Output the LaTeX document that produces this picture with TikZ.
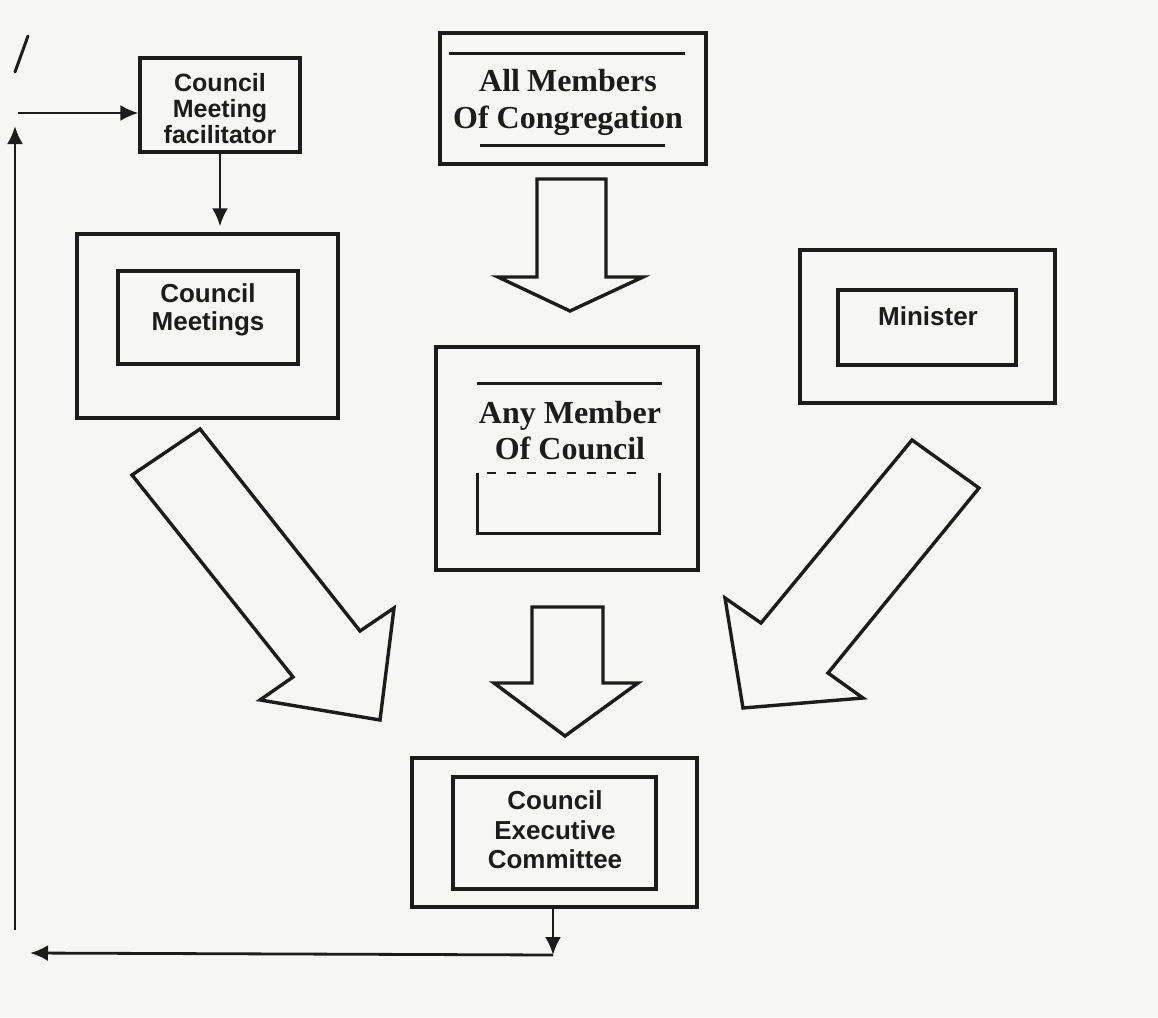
\documentclass[tikz,border=0pt]{standalone}
\usepackage{fontspec}
\setmainfont{Liberation Serif}
\setsansfont{Liberation Sans}
\usetikzlibrary{arrows.meta}
\definecolor{paper}{RGB}{246,246,244}
\definecolor{ink}{RGB}{28,28,28}
\begin{document}
\begin{tikzpicture}[x=1pt,y=-1pt,
  box/.style={draw=ink, line width=3.2pt, inner sep=0pt},
  sanstext/.style={font=\sffamily\bfseries\fontsize{26}{28}\selectfont, text=ink, align=center, inner sep=0pt},
  seriftext/.style={font=\rmfamily\bfseries\fontsize{32}{36}\selectfont, text=ink, align=center, inner sep=0pt},
  conn/.style={draw=ink, line width=2.8pt, -{Latex[length=18pt,width=16pt]}},
  rule/.style={draw=ink, line width=3pt},
  blockarrow/.style={draw=ink, line width=3.4pt, line join=miter, fill=paper}]
\fill[paper] (0,0) rectangle (1158,1017);
\useasboundingbox (0,0) rectangle (1158,1017);

% boxes
\node[box, minimum width=160pt, minimum height=94pt] (fac) at (220,105) {};
\node[box, minimum width=261pt, minimum height=184pt] (cmo) at (207.5,326) {};
\node[box, minimum width=180pt, minimum height=93pt] (cmi) at (208,317.5) {};
\node[box, minimum width=266pt, minimum height=131pt] (all) at (573,98.5) {};
\node[box, minimum width=262pt, minimum height=223pt] (any) at (567,458.5) {};
\node[box, minimum width=255pt, minimum height=153pt] (mino) at (927.5,326.5) {};
\node[box, minimum width=178pt, minimum height=75pt] (mini) at (927,327.5) {};
\node[box, minimum width=285pt, minimum height=149pt] (exo) at (554.5,832.5) {};
\node[box, minimum width=203pt, minimum height=112pt] (exi) at (554.5,833) {};

% texts
\node[sanstext, font=\sffamily\bfseries\fontsize{25}{26}\selectfont] (factext) at (220,109) {Council\\Meeting\\facilitator};
\node[sanstext] (cmtext) at (208,310) {Council\\Meetings};
\node[sanstext] (mintext) at (928,316) {Minister};
\node[sanstext, font=\sffamily\bfseries\fontsize{26}{29.5}\selectfont] (extext) at (555,830) {Council\\Executive\\Committee};
\node[seriftext, font=\rmfamily\bfseries\fontsize{32}{37}\selectfont] (alltext) at (568,102) {All\hspace{7pt}Members\\Of Congregation};
\node[seriftext] (anytext) at (570,431) {Any Member\\Of Council};

% decorative rules
\draw[rule] (449,53) -- (685,53);
\draw[rule] (480,145) -- (665,145);
\draw[rule] (477,383) -- (662,383);
\draw[rule] (477,473) -- (477,533) -- (659,533) -- (659,473);
\draw[draw=ink, line width=1.4pt, dash pattern=on 9pt off 11pt] (487,473) -- (640,473);
\draw[rule, line cap=round] (15,72) -- (28,36);

% block arrows
\draw[blockarrow] (537,179) -- (606,179) -- (606,277) -- (643,277) -- (570,311) -- (498,277) -- (537,277) -- cycle;
\draw[blockarrow] (532,607) -- (603,607) -- (603,683) -- (638,683) -- (565,736) -- (494,683) -- (532,683) -- cycle;
\draw[blockarrow] (200,429) -- (360,631) -- (394,608) -- (380,720) -- (260,700) -- (293,677) -- (132,475) -- cycle;
\draw[blockarrow] (912,440) -- (979,488) -- (828,673) -- (863,698) -- (743,708) -- (725,598) -- (761,623) -- cycle;

% line connectors
\coordinate (c1) at (553,955);
\coordinate (c2) at (30,953);
\coordinate (c3) at (15,930);
\coordinate (c4) at (15,126);
\coordinate (c5) at (18,113);
\draw[conn] (fac.south) -- ([yshift=6pt]cmo.north -| fac.south);
\draw[conn] (exo.south -| c1) -- (c1);
\draw[conn] (c1) -- (c2);
\draw[conn] (c3) -- (c4);
\draw[conn] (c5) -- (fac.west |- c5);
\end{tikzpicture}
\end{document}
